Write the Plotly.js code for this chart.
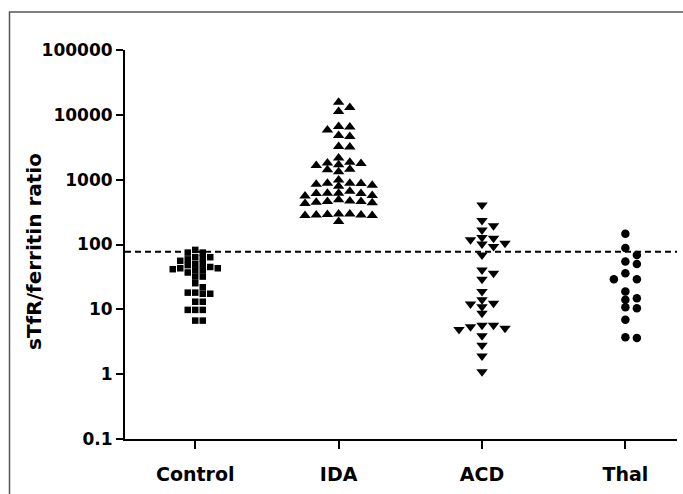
<!DOCTYPE html>
<html>
<head>
<meta charset="utf-8">
<script src="https://cdn.plot.ly/plotly-3.0.1.min.js"></script>
<style>
  html, body { margin: 0; padding: 0; background: #fff; }
  #chart { width: 683px; height: 494px; }
</style>
</head>
<body>
<div id="chart"></div>
<script>
// ---------- data ----------
const categories = ['Control', 'IDA', 'ACD', 'Thal'];

const controlValues = [
  82.6, 75, 75,
  63.7, 63.7, 59, 56, 61.5,
  50, 48, 40, 50, 45, 43, 43, 41.6, 40, 37,
  32, 32, 25.3, 21.9,
  18.1, 17.4, 17.4, 18.1,
  13.1, 13.1, 9.8, 9.8, 9.8, 6.7, 6.7
];

const idaValues = [
  15700, 12970, 11250, 6600, 6500, 5860, 4790, 4620, 3240, 3200, 2150,
  1850, 1800, 1780, 1700, 1650, 1450, 1330, 1420,
  990, 880, 870, 850, 820, 790, 880,
  660, 620, 610, 560, 620, 570, 610,
  460, 430, 440, 460, 450, 470, 490,
  295, 285, 290, 280, 295, 285, 280,
  226
];

const acdValues = [
  408, 234, 194, 168, 128, 118, 125, 105, 102, 93, 69,
  40.5, 36, 29, 18.8, 14, 12.1, 12.4, 11, 8.7,
  5.7, 4.9, 5.7, 5.1, 5.4, 3.9, 2.8, 1.9, 1.09
];

const thalValues = [
  146, 88, 69, 54.5, 50, 36, 29, 29, 18.8, 14, 14.8,
  10.4, 10.8, 6.9, 3.6, 3.7
];

const cutoffValue = 77;

const yTickValues = [0.1, 1, 10, 100, 1000, 10000, 100000];
const yTickLabels = ['0.1', '1', '10', '100', '1000', '10000', '100000'];
const yTitleText = 'sTfR/ferritin ratio';

// ---------- layout constants / styles ----------
const W = 683, H = 494;
const M = { l: 125, r: 6, t: 50, b: 55 };
const xRange = [-0.49, 3.36];
const yRangeLog = [-1, 5];
const plotW = W - M.l - M.r;
const plotH = H - M.t - M.b;
const pxPerUnit = plotW / (xRange[1] - xRange[0]);
const pxPerDecade = plotH / (yRangeLog[1] - yRangeLog[0]);

const groupStyles = [
  { symbol: 'square',        size: 6.5, slot: 7.5,  minDy: 5.5 },
  { symbol: 'triangle-up',   size: 10,  slot: 11.2, minDy: 6 },
  { symbol: 'triangle-down', size: 10,  slot: 11.5, minDy: 6 },
  { symbol: 'circle',        size: 8.5, slot: 11.5, minDy: 7 }
];

// Prism-like column scatter: place each point in the nearest free column slot
function swarm(values, gi, st) {
  const items = values.map(v => ({ v: v, py: Math.log10(v) * pxPerDecade }))
                      .sort((a, b) => b.v - a.v);
  const placed = [];
  items.forEach(it => {
    for (let k = 0; k < 40; k++) {
      const slot = k === 0 ? 0 : (k % 2 === 1 ? (k + 1) / 2 : -k / 2);
      const clash = placed.some(p => p.slot === slot && Math.abs(p.py - it.py) < st.minDy);
      if (!clash) { it.slot = slot; placed.push(it); break; }
    }
  });
  return {
    x: items.map(it => gi + it.slot * st.slot / pxPerUnit),
    y: items.map(it => it.v)
  };
}

const allValues = [controlValues, idaValues, acdValues, thalValues];
const traces = allValues.map((vals, gi) => {
  const st = groupStyles[gi];
  const s = swarm(vals, gi, st);
  return {
    type: 'scatter', mode: 'markers', name: categories[gi],
    x: s.x, y: s.y,
    marker: { symbol: st.symbol, size: st.size, color: '#000', line: { width: 0 } },
    hoverinfo: 'y', showlegend: false, cliponaxis: false
  };
});

traces.push({
  type: 'scatter', mode: 'lines', name: 'cutoff',
  x: xRange, y: [cutoffValue, cutoffValue],
  line: { color: '#000', width: 2, dash: '6px,4px' },
  hoverinfo: 'skip', showlegend: false
});

const boldFont = (size) => ({ family: 'DejaVu Sans, sans-serif', size: size, color: '#000', weight: 700 });

const layout = {
  width: W, height: H,
  margin: M,
  paper_bgcolor: '#fff', plot_bgcolor: '#fff',
  showlegend: false,
  xaxis: {
    range: xRange,
    tickmode: 'array',
    tickvals: [0, 1, 2, 3],
    ticktext: categories,
    ticks: 'outside', ticklen: 8, tickwidth: 2, tickcolor: '#000',
    showline: true, linecolor: '#000', linewidth: 2,
    showgrid: false, zeroline: false,
    tickfont: boldFont(19),
    ticklabelstandoff: 9,
    fixedrange: true
  },
  yaxis: {
    type: 'log',
    range: yRangeLog,
    tickmode: 'array',
    tickvals: yTickValues,
    ticktext: yTickLabels,
    ticks: 'outside', ticklen: 7, tickwidth: 2, tickcolor: '#000',
    showline: true, linecolor: '#000', linewidth: 2,
    showgrid: false, zeroline: false,
    tickfont: boldFont(17),
    automargin: false,
    fixedrange: true
  },
  annotations: [{
    text: yTitleText,
    xref: 'paper', yref: 'paper',
    x: (34 - M.l) / plotW, y: (H - M.b - 252) / plotH,
    xanchor: 'center', yanchor: 'middle',
    textangle: -90, showarrow: false,
    font: boldFont(20)
  }],
  shapes: [{
    type: 'rect', xref: 'paper', yref: 'paper',
    x0: (9.5 - M.l) / plotW, x1: (W + 20 - M.l) / plotW,
    y0: -(M.b + 20) / plotH, y1: (H - M.b - 12) / plotH,
    line: { color: '#555', width: 1.5 },
    fillcolor: 'rgba(0,0,0,0)', layer: 'below'
  }]
};

Plotly.newPlot('chart', traces, layout, { displayModeBar: false, staticPlot: true });
</script>
</body>
</html>
